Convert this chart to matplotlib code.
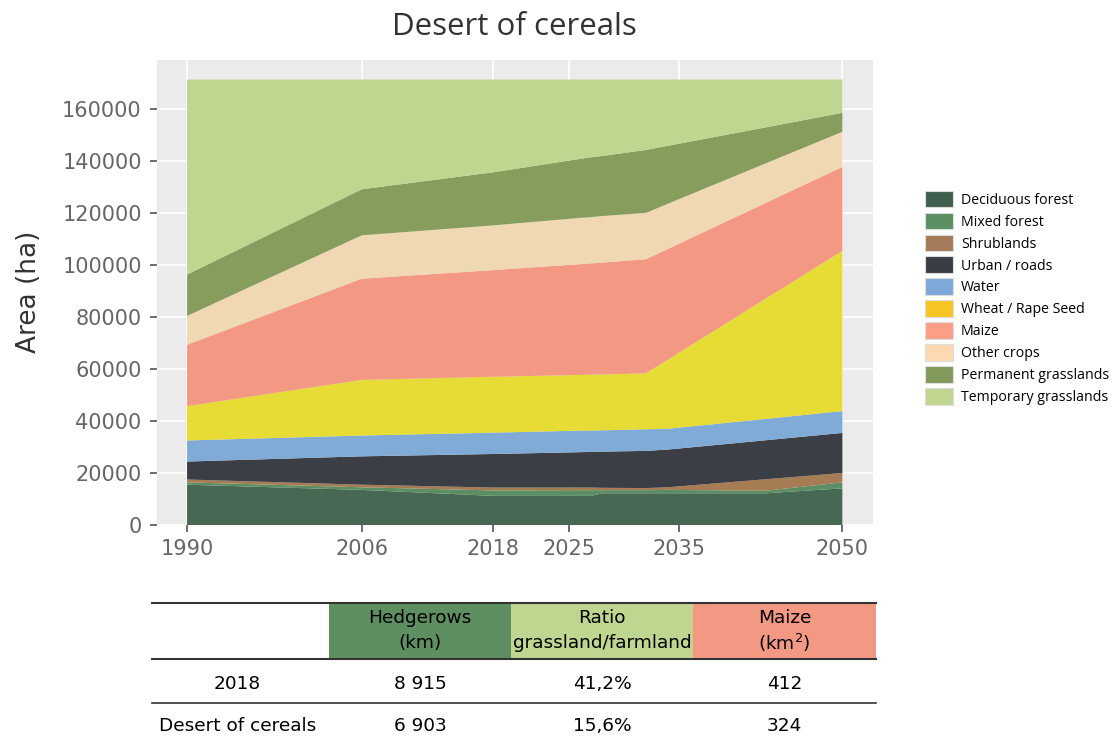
import matplotlib
matplotlib.use('Agg')
import matplotlib.pyplot as plt
from matplotlib.patches import Patch, Rectangle

# ---------------- data ----------------
years = [1990, 2006, 2018, 2026, 2027, 2028, 2032, 2034, 2043, 2050]
deciduous = [15500, 13500, 11200, 11200, 11200, 12200, 12200, 12200, 12200, 14100]
mixed = [900, 1000, 2100, 2200, 2200, 1200, 1200, 1300, 1000, 2300]
shrub = [1100, 1000, 1100, 1000, 1000, 900, 800, 1000, 4400, 3600]
urban = [6900, 10900, 12900, 13600, 13700, 13900, 14300, 14500, 15000, 15400]
water = [8100, 8000, 8200, 8300, 8200, 8200, 8300, 8000, 8200, 8400]
wheat = [13200, 21400, 21500, 21400, 21500, 21500, 21500, 26500, 46300, 61600]
maize = [23600, 38900, 41000, 42600, 42800, 43000, 43900, 42600, 36800, 32300]
other = [11100, 16700, 17200, 17800, 17800, 17900, 17800, 17400, 15200, 13500]
perm = [15900, 17700, 20400, 22700, 23000, 23100, 24200, 22300, 13800, 7300]
temp = [75000, 42200, 35700, 30500, 29900, 29400, 27100, 25500, 18400, 12800]

labels = ["Deciduous forest", "Mixed forest", "Shrublands", "Urban / roads", "Water",
          "Wheat / Rape Seed", "Maize", "Other crops", "Permanent grasslands",
          "Temporary grasslands"]
xticks = [1990, 2006, 2018, 2025, 2035, 2050]
yticks = [0, 20000, 40000, 60000, 80000, 100000, 120000, 140000, 160000]

table_header_top = ["Hedgerows", "Ratio", "Maize"]
table_header_bottom = ["(km)", "grassland/farmland", "(km$^{2}$)"]
table_rows = ["2018", "Desert of cereals"]
hedgerows = ["8 915", "6 903"]
ratio = ["41,2%", "15,6%"]
maize_km2 = ["412", "324"]

# ---------------- style ----------------
area_colors = ["#476953", "#5B8E62", "#A67C55", "#3B3E44", "#80ABD7",
               "#E7DC36", "#F39983", "#F0D8B3", "#869D5E", "#BFD690"]
legend_colors = ["#3F5F4F", "#5A8F63", "#A47B58", "#3A3D44", "#7EA8DA",
                 "#F6C423", "#FB9E86", "#FDD8B0", "#829B5C", "#C0D690"]
header_colors = ["#5E8F60", "#BFD690", "#F39983"]

W, H = 1118, 746
fig = plt.figure(figsize=(W / 100, H / 100), dpi=100)

def fx(px):
    return px / W

def fy(py):
    return 1 - py / H

ax = fig.add_axes([fx(157), fy(525), fx(873) - fx(157), fy(60) - fy(525)])
ax.set_facecolor("#EBEBEB")
for s in ax.spines.values():
    s.set_visible(False)
ax.set_axisbelow(True)
ax.grid(True, color="white", linewidth=1.2)

ax.stackplot(years, deciduous, mixed, shrub, urban, water, wheat, maize, other,
             perm, temp, colors=area_colors, linewidth=0)

ax.set_xlim(1987.25, 2052.8)
ax.set_ylim(0, 178800)
ax.set_xticks(xticks)
ax.set_yticks(yticks)
ax.set_yticklabels([str(v) for v in yticks])
ax.tick_params(axis="both", colors="#555555", labelsize=15, length=5, width=1.2,
               labelcolor="#666666")
ax.tick_params(axis="y", pad=6)
ax.tick_params(axis="x", pad=5)

fig.text(fx(29), fy(292), "Area (ha)", fontsize=19, color="#333333", rotation=90,
         ha="center", va="center")
fig.text(fx(514), fy(27), "Desert of cereals", fontsize=22.5, color="#333333",
         ha="center", va="center", family="Open Sans")

handles = [Patch(facecolor=c, edgecolor="#DDDDDD", linewidth=0.8) for c in legend_colors]
fig.legend(handles, labels, loc="upper left", bbox_to_anchor=(fx(919), fy(185)),
           frameon=False, handlelength=2.0, handleheight=1.45,
           labelspacing=0.34, handletextpad=0.55, borderaxespad=0,
           prop={"family": "Open Sans", "size": 10.2})

# ---------------- table ----------------
tax = fig.add_axes([0, 0, 1, 1])
tax.set_xlim(0, W)
tax.set_ylim(H, 0)
tax.axis("off")
tax.set_facecolor("none")

col_edges = [152, 329, 511, 693, 876]
col_centers = [(col_edges[i] + col_edges[i + 1]) / 2 for i in range(4)]
for i, c in enumerate(header_colors):
    tax.add_patch(Rectangle((col_edges[i + 1], 603), col_edges[i + 2] - col_edges[i + 1],
                            56, facecolor=c, edgecolor="none"))
tax.plot([152, 876], [603, 603], color="#333333", lw=1.5)
tax.plot([152, 876], [659, 659], color="#333333", lw=1.5)
tax.plot([152, 876], [703, 703], color="#333333", lw=1.2)

fs = 13.3
for i in range(3):
    tax.text(col_centers[i + 1], 618, table_header_top[i], fontsize=fs, ha="center",
             va="center", color="black")
    tax.text(col_centers[i + 1], 643, table_header_bottom[i], fontsize=fs, ha="center",
             va="center", color="black")

row_y = [684, 726]
for r in range(2):
    tax.text(col_centers[0] - 3, row_y[r], table_rows[r], fontsize=fs, ha="center", va="center")
    tax.text(col_centers[1], row_y[r], hedgerows[r], fontsize=fs, ha="center", va="center")
    tax.text(col_centers[2], row_y[r], ratio[r], fontsize=fs, ha="center", va="center")
    tax.text(col_centers[3], row_y[r], maize_km2[r], fontsize=fs, ha="center", va="center")

fig.savefig("out.png", dpi=100)
